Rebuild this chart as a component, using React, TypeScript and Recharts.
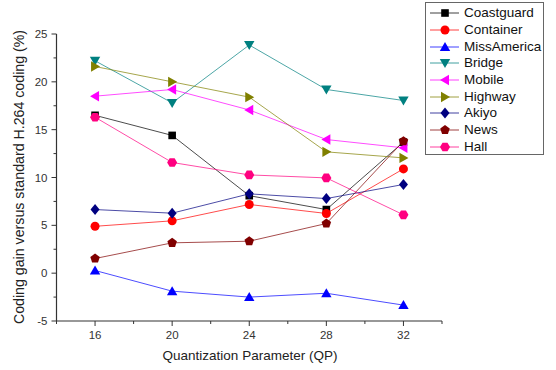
import React from 'react';
import { LineChart, Line, XAxis, YAxis } from 'recharts';

const qp = [16, 20, 24, 28, 32];
const coastguard = [16.5, 14.4, 8.1, 6.65, 13.7];
const container = [4.9, 5.47, 7.18, 6.24, 10.9];
const missAmerica = [0.28, -1.88, -2.5, -2.1, -3.34];
const bridge = [22.2, 17.8, 23.85, 19.2, 18.05];
const mobile = [18.5, 19.2, 17.06, 13.97, 13.1];
const highway = [21.6, 20.0, 18.4, 12.68, 12.05];
const akiyo = [6.65, 6.27, 8.29, 7.8, 9.27];
const news = [1.53, 3.17, 3.34, 5.19, 13.8];
const hall = [16.3, 11.57, 10.27, 9.96, 6.1];

const xTicks = [14, 16, 18, 20, 22, 24, 26, 28, 30, 32, 34];
const xLabels = [16, 20, 24, 28, 32];
const yTicks = [-5, -2.5, 0, 2.5, 5, 7.5, 10, 12.5, 15, 17.5, 20, 22.5, 25];
const yLabels = [-5, 0, 5, 10, 15, 20, 25];

type Shape = 'square' | 'circle' | 'up' | 'down' | 'left' | 'right' | 'diamond' | 'pentagon' | 'hexagon';

const seriesDefs: { key: string; name: string; values: number[]; color: string; shape: Shape }[] = [
  { key: 'coastguard', name: 'Coastguard', values: coastguard, color: '#000000', shape: 'square' },
  { key: 'container', name: 'Container', values: container, color: '#FF0000', shape: 'circle' },
  { key: 'missAmerica', name: 'MissAmerica', values: missAmerica, color: '#0000FF', shape: 'up' },
  { key: 'bridge', name: 'Bridge', values: bridge, color: '#008080', shape: 'down' },
  { key: 'mobile', name: 'Mobile', values: mobile, color: '#FF00FF', shape: 'left' },
  { key: 'highway', name: 'Highway', values: highway, color: '#808000', shape: 'right' },
  { key: 'akiyo', name: 'Akiyo', values: akiyo, color: '#000080', shape: 'diamond' },
  { key: 'news', name: 'News', values: news, color: '#800000', shape: 'pentagon' },
  { key: 'hall', name: 'Hall', values: hall, color: '#FF0080', shape: 'hexagon' },
];

const data = qp.map((q, i) => {
  const row: Record<string, number> = { qp: q };
  seriesDefs.forEach((s) => {
    row[s.key] = s.values[i];
  });
  return row;
});

const FONT = '"Liberation Sans", Arial, sans-serif';
const AXIS = '#333333';

function poly(cx: number, cy: number, n: number, r: number, rot: number) {
  const pts: string[] = [];
  for (let i = 0; i < n; i++) {
    const a = rot + (i * 2 * Math.PI) / n;
    pts.push(`${cx + r * Math.cos(a)},${cy + r * Math.sin(a)}`);
  }
  return pts.join(' ');
}

function Marker({ cx, cy, shape, color }: { cx: number; cy: number; shape: Shape; color: string }) {
  switch (shape) {
    case 'square':
      return <rect x={cx - 3.8} y={cy - 3.8} width={7.6} height={7.6} fill={color} />;
    case 'circle':
      return <circle cx={cx} cy={cy} r={4.5} fill={color} />;
    case 'up':
      return <polygon points={`${cx},${cy - 5} ${cx - 5.2},${cy + 4} ${cx + 5.2},${cy + 4}`} fill={color} />;
    case 'down':
      return <polygon points={`${cx},${cy + 5} ${cx - 5.2},${cy - 4} ${cx + 5.2},${cy - 4}`} fill={color} />;
    case 'left':
      return <polygon points={`${cx - 5},${cy} ${cx + 4},${cy - 5.2} ${cx + 4},${cy + 5.2}`} fill={color} />;
    case 'right':
      return <polygon points={`${cx + 5},${cy} ${cx - 4},${cy - 5.2} ${cx - 4},${cy + 5.2}`} fill={color} />;
    case 'diamond':
      return <polygon points={`${cx},${cy - 5.5} ${cx + 4.5},${cy} ${cx},${cy + 5.5} ${cx - 4.5},${cy}`} fill={color} />;
    case 'pentagon':
      return <polygon points={poly(cx, cy, 5, 5, -Math.PI / 2)} fill={color} />;
    case 'hexagon':
      return <polygon points={poly(cx, cy, 6, 5, 0)} fill={color} />;
  }
  return null;
}

const TICK_SIZE = 5;
const TICK_MARGIN = 5;

function XTick(props: any) {
  const { x, y, payload } = props;
  const v = payload.value as number;
  const major = xLabels.includes(v);
  const axisY = y - TICK_SIZE - TICK_MARGIN;
  return (
    <g>
      <line x1={x} x2={x} y1={axisY} y2={axisY + (major ? 5 : 3)} stroke={AXIS} strokeWidth={1} />
      {major && (
        <text x={x} y={axisY + 18} textAnchor="middle" fontSize={11.5} fill="#333" fontFamily={FONT}>
          {v}
        </text>
      )}
    </g>
  );
}

function YTick(props: any) {
  const { x, y, payload } = props;
  const v = payload.value as number;
  const major = yLabels.includes(v);
  const axisX = x + TICK_SIZE + TICK_MARGIN;
  return (
    <g>
      <line x1={axisX - (major ? 5 : 3)} x2={axisX} y1={y} y2={y} stroke={AXIS} strokeWidth={1} />
      {major && (
        <text x={axisX - 9} y={y + 4} textAnchor="end" fontSize={11.5} fill="#333" fontFamily={FONT}>
          {v}
        </text>
      )}
    </g>
  );
}

function LegendBox() {
  return (
    <div
      style={{
        position: 'absolute',
        left: 425,
        top: 2,
        border: '1px solid #666',
        background: '#fff',
        width: 119,
        height: 153,
        boxSizing: 'border-box',
        paddingTop: 2,
        fontFamily: FONT,
      }}
    >
      {seriesDefs.map((s) => (
        <div key={s.key} style={{ height: 16.7, display: 'flex', alignItems: 'center' }}>
          <svg width={38} height={16} style={{ flex: 'none' }}>
            <line x1={4} x2={33} y1={8} y2={8} stroke={s.color} strokeWidth={1} strokeOpacity={0.75} />
            <Marker cx={19} cy={8} shape={s.shape} color={s.color} />
          </svg>
          <span style={{ fontSize: 13.5, color: '#111', lineHeight: '16px' }}>{s.name}</span>
        </div>
      ))}
    </div>
  );
}

export default function App() {
  return (
    <div style={{ position: 'absolute', left: 0, top: 0, width: 556, height: 370, background: '#fff' }}>
      <LineChart
        width={556}
        height={370}
        data={data}
        margin={{ top: 34, right: 114, bottom: 9, left: 0 }}
      >
        <XAxis
          dataKey="qp"
          type="number"
          domain={[14, 34]}
          ticks={xTicks}
          interval={0}
          tick={<XTick />}
          tickLine={false}
          tickSize={TICK_SIZE}
          tickMargin={TICK_MARGIN}
          axisLine={{ stroke: AXIS, strokeWidth: 1.2 }}
          height={40}
          allowDecimals
        />
        <YAxis
          type="number"
          domain={[-5, 25]}
          ticks={yTicks}
          interval={0}
          tick={<YTick />}
          tickLine={false}
          tickSize={TICK_SIZE}
          tickMargin={TICK_MARGIN}
          axisLine={{ stroke: AXIS, strokeWidth: 1.2 }}
          width={56.5}
          allowDecimals
        />
        {seriesDefs.map((s) => (
          <Line
            key={s.key}
            dataKey={s.key}
            name={s.name}
            stroke={s.color}
            strokeWidth={1}
            strokeOpacity={0.7}
            isAnimationActive={false}
            dot={(p: any) => <Marker key={`${s.key}-${p.index}`} cx={p.cx} cy={p.cy} shape={s.shape} color={s.color} />}
            activeDot={false}
          />
        ))}
        <text
          x={0}
          y={0}
          transform="translate(24,177) rotate(-90)"
          textAnchor="middle"
          fontSize={14.2}
          fill="#222"
          fontFamily={FONT}
        >
          Coding gain versus standard H.264 coding (%)
        </text>
        <text x={250} y={360} textAnchor="middle" fontSize={13.5} fill="#222" fontFamily={FONT}>
          Quantization Parameter (QP)
        </text>
      </LineChart>
      <LegendBox />
    </div>
  );
}
